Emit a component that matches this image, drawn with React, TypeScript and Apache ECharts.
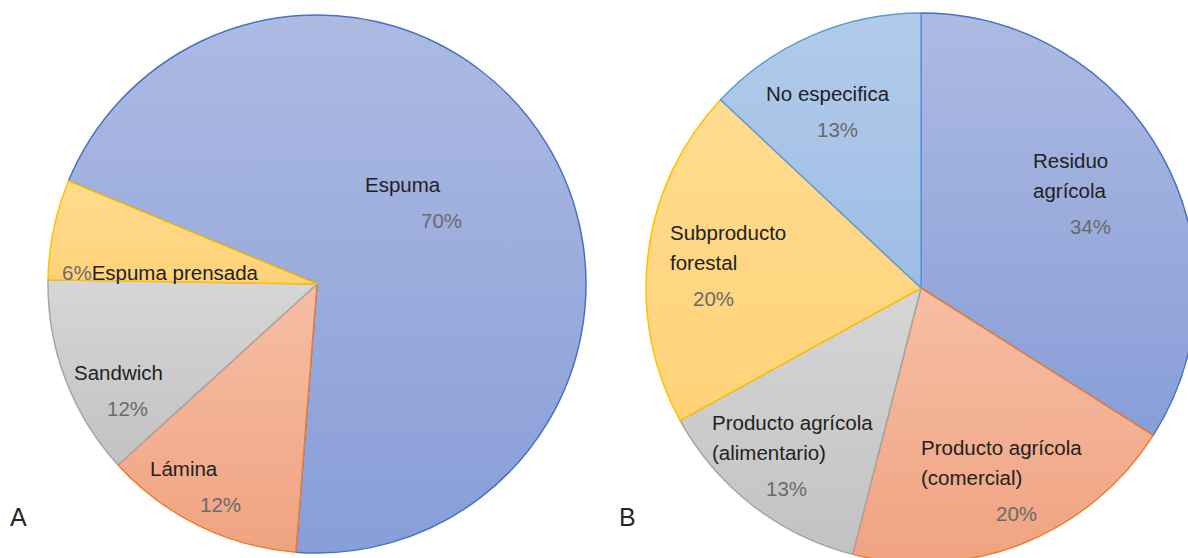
import React, { useEffect, useRef } from "react";
import * as echarts from "echarts";

// Panel A: type of material
const materialNames = ["Espuma", "Lámina", "Sandwich", "Espuma prensada"];
const materialShares = [70, 12, 12, 6];

// Panel B: origin of the raw material
const originNames = [
  "Residuo agrícola",
  "Producto agrícola (comercial)",
  "Producto agrícola (alimentario)",
  "Subproducto forestal",
  "No especifica",
];
const originShares = [34, 20, 13, 20, 13];

const panelLetters = ["A", "B"];

// Fill palettes: [top, bottom, border]
const palette = {
  blue: ["#adbae2", "#889ed8", "#4472c4"],
  orange: ["#f6bea5", "#f0a381", "#ed7d31"],
  gray: ["#d6d6d6", "#c2c2c2", "#a5a5a5"],
  yellow: ["#ffdc90", "#ffd278", "#ffc000"],
  light: ["#b2cbea", "#9ebde5", "#5b9bd5"],
};

const materialColors = [palette.blue, palette.orange, palette.gray, palette.yellow];
const originColors = [palette.blue, palette.orange, palette.gray, palette.yellow, palette.light];

// Label placement: top-left of text block, indent of the percentage line,
// number of words on the first line (0 = no wrap), inline = percentage first on same line
type LabelPlace = { x: number; y: number; indent: number; wrap: number; inline?: boolean };

const materialLabels: LabelPlace[] = [
  { x: 365, y: 169, indent: 56, wrap: 0 },
  { x: 150, y: 453, indent: 50, wrap: 0 },
  { x: 74, y: 357, indent: 33, wrap: 0 },
  { x: 62, y: 257, indent: 0, wrap: 0, inline: true },
];

const originLabels: LabelPlace[] = [
  { x: 1033, y: 145, indent: 37, wrap: 1 },
  { x: 921, y: 432, indent: 75, wrap: 2 },
  { x: 712, y: 407, indent: 54, wrap: 2 },
  { x: 670, y: 217, indent: 23, wrap: 1 },
  { x: 766, y: 78, indent: 51, wrap: 0 },
];

const FONT = "'Liberation Sans', Arial, sans-serif";
const SIZE = 20.5;

function wrapName(name: string, words: number): string {
  if (!words) return name;
  const parts = name.split(" ");
  return parts.slice(0, words).join(" ") + "\n" + parts.slice(words).join(" ");
}

function buildData(names: string[], values: number[], colors: string[][], places: LabelPlace[]) {
  return names.map((name, i) => {
    const place = places[i];
    const text = place.inline
      ? `{pi|${values[i]}%}{n|${name}}`
      : `{n|${wrapName(name, place.wrap)}}\n{p${i}|${values[i]}%}`;
    const rich: Record<string, any> = {
      n: { color: "#222222", fontSize: SIZE, fontFamily: FONT, lineHeight: 30 },
      pi: { color: "#6a6a6a", fontSize: SIZE, fontFamily: FONT, lineHeight: 30 },
    };
    rich["p" + i] = {
      color: "#6a6a6a",
      fontSize: SIZE,
      fontFamily: FONT,
      lineHeight: 42,
      padding: [0, 0, 0, place.indent],
    };
    return {
      name,
      value: values[i],
      itemStyle: {
        color: new echarts.graphic.LinearGradient(0, 0, 0, 1, [
          { offset: 0, color: colors[i][0] },
          { offset: 1, color: colors[i][1] },
        ]),
        borderColor: colors[i][2],
        borderWidth: 1.5,
      },
      label: {
        show: true,
        formatter: text,
        rich,
      },
    };
  });
}

export default function App() {
  const ref = useRef<HTMLDivElement>(null);

  useEffect(() => {
    document.body.style.margin = "0";
    if (!ref.current) return;
    const chart = echarts.init(ref.current, undefined, { renderer: "svg" });

    const layoutFor = (places: LabelPlace[]) => (params: any) => {
      const p = places[params.dataIndex];
      return { x: p.x, y: p.y, align: "left", verticalAlign: "top" };
    };

    chart.setOption({
      animation: false,
      backgroundColor: "#ffffff",
      series: [
        {
          type: "pie",
          center: [317, 284],
          radius: 269,
          startAngle: 157.5,
          clockwise: true,
          label: { position: "inside" },
          labelLine: { show: false },
          labelLayout: layoutFor(materialLabels),
          emphasis: { disabled: true },
          data: buildData(materialNames, materialShares, materialColors, materialLabels),
        },
        {
          type: "pie",
          center: [921, 288],
          radius: 275,
          startAngle: 90,
          clockwise: true,
          label: { position: "inside" },
          labelLine: { show: false },
          labelLayout: layoutFor(originLabels),
          emphasis: { disabled: true },
          data: buildData(originNames, originShares, originColors, originLabels),
        },
      ],
      graphic: [
        {
          type: "text",
          left: 10,
          top: 504,
          style: { text: panelLetters[0], fontSize: 25, fontFamily: FONT, fill: "#262626" },
        },
        {
          type: "text",
          left: 619,
          top: 504,
          style: { text: panelLetters[1], fontSize: 25, fontFamily: FONT, fill: "#262626" },
        },
      ],
    });

    return () => chart.dispose();
  }, []);

  return <div ref={ref} style={{ width: 1188, height: 558 }} />;
}
